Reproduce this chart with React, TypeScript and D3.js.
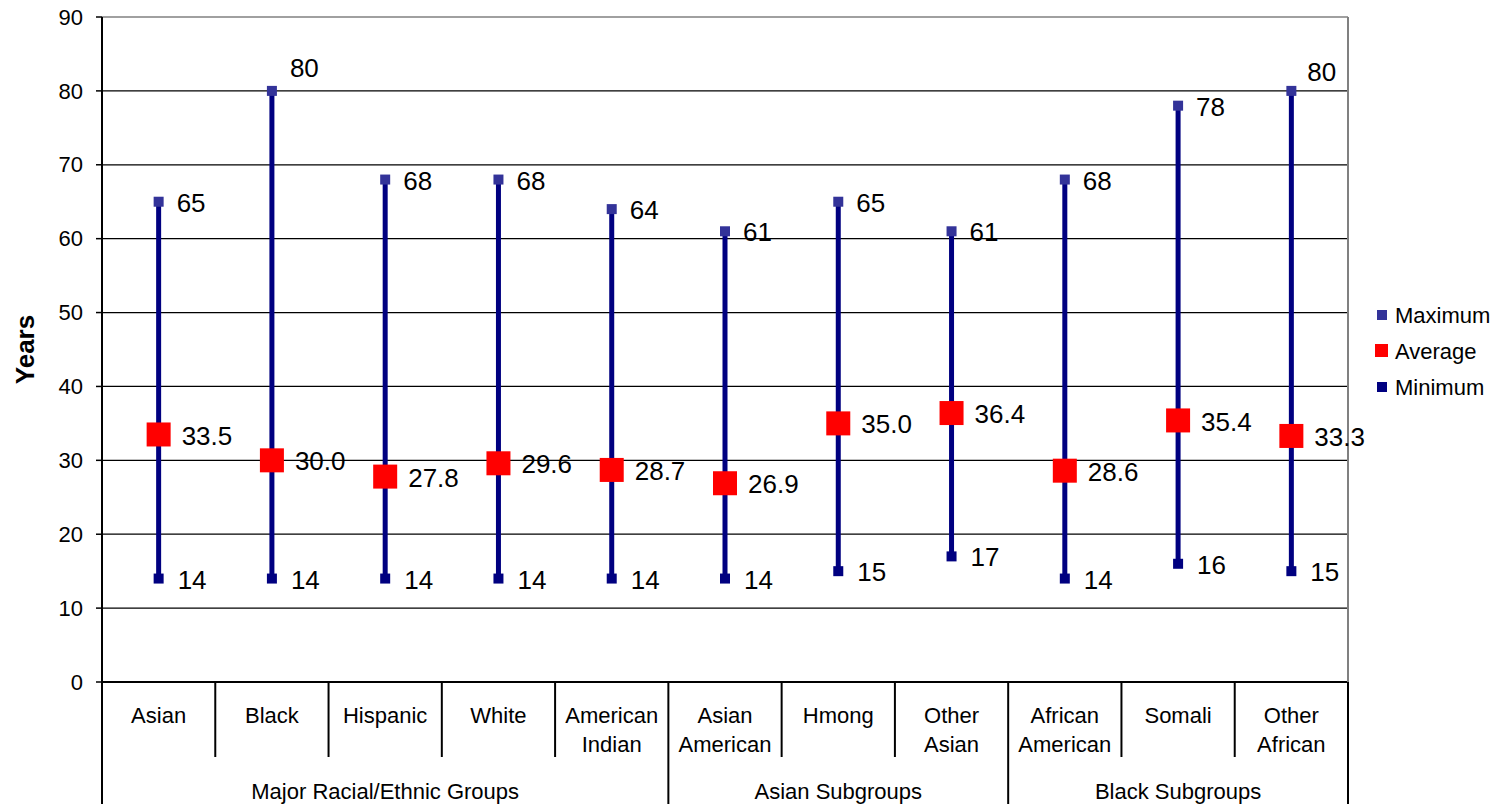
import React from "react";
import * as d3 from "d3";

const categories = [
  "Asian",
  "Black",
  "Hispanic",
  "White",
  "American\nIndian",
  "Asian\nAmerican",
  "Hmong",
  "Other\nAsian",
  "African\nAmerican",
  "Somali",
  "Other\nAfrican",
];
const maximum = [65, 80, 68, 68, 64, 61, 65, 61, 68, 78, 80];
const average = [33.5, 30.0, 27.8, 29.6, 28.7, 26.9, 35.0, 36.4, 28.6, 35.4, 33.3];
const minimum = [14, 14, 14, 14, 14, 14, 15, 17, 14, 16, 15];
const groupNames = ["Major Racial/Ethnic Groups", "Asian Subgroups", "Black Subgroups"];
const groupSizes = [5, 3, 3];
const yTicks = [0, 10, 20, 30, 40, 50, 60, 70, 80, 90];

const W = 1499;
const H = 804;
const left = 102;
const right = 1348;
const top = 17;
const bottom = 682;
const FONT = "'Liberation Sans', Arial, Helvetica, sans-serif";

// manual nudges for overlapping max labels (by index)
const maxLabelNudge: Record<number, [number, number]> = {
  1: [0, -24],
  10: [-2, -20],
};

export default function App() {
  const x = d3
    .scaleBand<number>()
    .domain(categories.map((_, i) => i))
    .range([left, right])
    .paddingInner(0)
    .paddingOuter(0);
  const y = d3.scaleLinear().domain([0, 90]).range([bottom, top]);
  const bw = x.bandwidth();
  const cx = (i: number) => (x(i) as number) + bw / 2;

  // group boundaries
  const groupBounds: { name: string; start: number; end: number }[] = [];
  let acc = 0;
  groupNames.forEach((g, gi) => {
    groupBounds.push({ name: g, start: acc, end: acc + groupSizes[gi] });
    acc += groupSizes[gi];
  });
  const groupEdges = new Set<number>(groupBounds.map((g) => g.start).concat([categories.length]));

  return (
    <svg
      width={W}
      height={H}
      style={{ position: "absolute", left: 0, top: 0, background: "#fff" }}
      fontFamily={FONT}
    >
      <rect x={0} y={0} width={W} height={H} fill="#fff" />
      {/* gridlines */}
      {yTicks.map((t) => (
        <line
          key={"g" + t}
          x1={left}
          x2={right}
          y1={y(t)}
          y2={y(t)}
          stroke={t === 90 ? "#808080" : "#000"}
          strokeWidth={t === 0 ? 2 : 1.3}
        />
      ))}
      {/* right border */}
      <line x1={right} x2={right} y1={top} y2={bottom} stroke="#808080" strokeWidth={2} />
      {/* y ticks */}
      {yTicks.map((t) => (
        <g key={"t" + t}>
          <line x1={left - 6} x2={left} y1={y(t)} y2={y(t)} stroke="#000" strokeWidth={1.5} />
          <text x={83} y={y(t)} dy="0.35em" textAnchor="end" fontSize={22} fill="#000">
            {t}
          </text>
        </g>
      ))}
      {/* y axis title */}
      <text
        transform={`translate(34,${(top + bottom) / 2}) rotate(-90)`}
        textAnchor="middle"
        fontSize={26}
        fontWeight="bold"
        fill="#000"
      >
        Years
      </text>
      {/* category separators */}
      {d3.range(categories.length + 1).map((i) => {
        const xx = i === categories.length ? right : (x(i) as number);
        const isGroup = groupEdges.has(i);
        return (
          <line
            key={"s" + i}
            x1={xx}
            x2={xx}
            y1={i === 0 ? top : bottom}
            y2={isGroup ? H : 757}
            stroke="#000"
            strokeWidth={2}
          />
        );
      })}
      {/* category labels */}
      {categories.map((c, i) => {
        const lines = c.split("\n");
        return (
          <text key={"c" + i} textAnchor="middle" fontSize={22} fill="#000">
            {lines.map((ln, li) => (
              <tspan key={li} x={cx(i)} y={715 + li * 29} dy="0.35em">
                {ln}
              </tspan>
            ))}
          </text>
        );
      })}
      {/* group labels */}
      {groupBounds.map((g) => {
        const x0 = x(g.start) as number;
        const x1 = g.end === categories.length ? right : (x(g.end) as number);
        return (
          <text
            key={g.name}
            x={(x0 + x1) / 2}
            y={791}
            dy="0.35em"
            textAnchor="middle"
            fontSize={22}
            fill="#000"
          >
            {g.name}
          </text>
        );
      })}
      {/* hi-lo lines */}
      {categories.map((_, i) => (
        <line
          key={"hl" + i}
          x1={cx(i)}
          x2={cx(i)}
          y1={y(minimum[i])}
          y2={y(maximum[i])}
          stroke="#000080"
          strokeWidth={5}
        />
      ))}
      {/* markers */}
      {categories.map((_, i) => (
        <g key={"m" + i}>
          <rect x={cx(i) - 5} y={y(maximum[i]) - 5} width={10} height={10} fill="#333399" />
          <rect x={cx(i) - 5} y={y(minimum[i]) - 5} width={10} height={10} fill="#000080" />
          <rect x={cx(i) - 12} y={y(average[i]) - 12} width={24} height={24} fill="#ff0000" />
        </g>
      ))}
      {/* data labels */}
      {categories.map((_, i) => {
        const [ndx, ndy] = maxLabelNudge[i] || [0, 0];
        return (
          <g key={"l" + i} fontSize={26} fill="#000">
            <text x={cx(i) + 18 + ndx} y={y(maximum[i]) + 1 + ndy} dy="0.35em">
              {d3.format("d")(maximum[i])}
            </text>
            <text x={cx(i) + 23} y={y(average[i]) + 1} dy="0.35em">
              {d3.format(".1f")(average[i])}
            </text>
            <text x={cx(i) + 19} y={y(minimum[i]) + 1} dy="0.35em">
              {d3.format("d")(minimum[i])}
            </text>
          </g>
        );
      })}
      {/* legend */}
      <g fontSize={22} fill="#000">
        <rect x={1377} y={310} width={10} height={10} fill="#333399" />
        <text x={1395} y={315} dy="0.35em">Maximum</text>
        <rect x={1375} y={344} width={13} height={13} fill="#ff0000" />
        <text x={1395} y={351} dy="0.35em">Average</text>
        <rect x={1377} y={382} width={10} height={10} fill="#000080" />
        <text x={1395} y={387} dy="0.35em">Minimum</text>
      </g>
    </svg>
  );
}
